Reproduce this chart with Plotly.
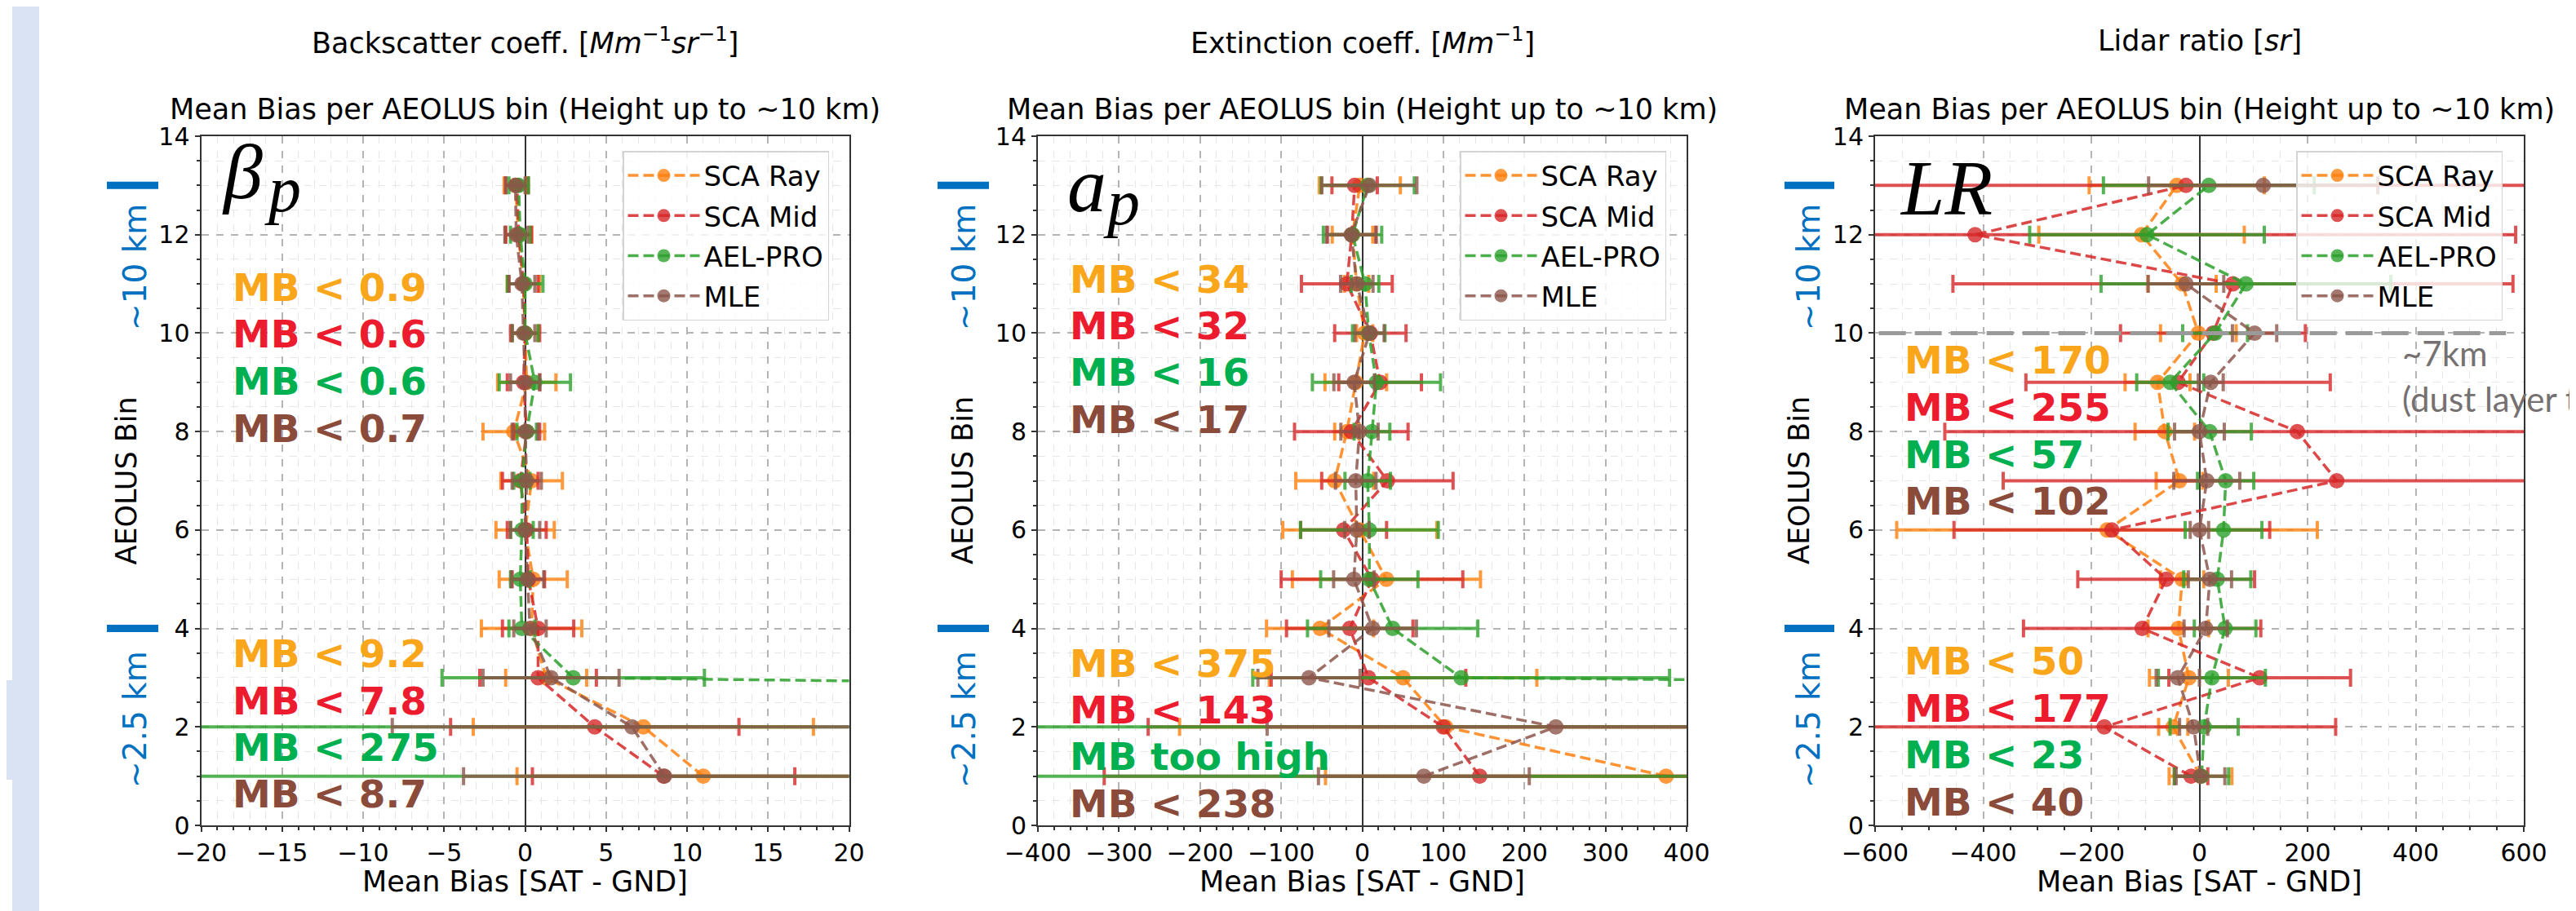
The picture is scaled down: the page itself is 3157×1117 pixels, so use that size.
import plotly.graph_objects as go

W, H = 3157, 1117

# ---------------- data ----------------
bins = [1, 2, 3, 4, 5, 6, 7, 8, 9, 10, 11, 12, 13]
series_names = ["SCA Ray", "SCA Mid", "AEL-PRO", "MLE"]

# Backscatter coeff.
bsc_ray = [11.0, 7.3, 1.3, 0.4, 0.5, 0.0, 0.4, -0.7, 0.1, 0.0, -0.1, -0.4, -0.6]
bsc_ray_err = [11.5, 10.5, 2.5, 3.1, 2.1, 1.8, 1.9, 1.9, 1.8, 0.8, 1.0, 0.8, 0.7]
bsc_mid = [8.55, 4.3, 0.8, 0.8, 0.2, 0.1, -0.3, 0.1, -0.1, 0.0, -0.1, -0.4, -0.5]
bsc_mid_err = [8.1, 8.9, 3.6, 2.2, 1.0, 1.2, 1.1, 0.8, 1.0, 0.9, 0.9, 0.8, 0.7]
bsc_ael = [150.0, 265.0, 2.97, -0.2, -0.3, -0.2, -0.2, 0.1, 0.6, 0.0, 0.0, -0.3, -0.4]
bsc_ael_err = [300, 300, 8.1, 0.8, 0.6, 0.7, 0.5, 0.6, 2.2, 0.8, 1.1, 0.6, 0.6]
bsc_mle = [8.6, 6.6, 1.6, 0.3, 0.15, 0.0, 0.1, 0.0, 0.0, -0.1, -0.2, -0.55, -0.6]
bsc_mle_err = [12.4, 14.8, 4.2, 1.0, 1.0, 0.9, 0.9, 0.8, 0.9, 0.7, 0.8, 0.7, 0.6]

# Extinction coeff.
ext_ray = [374.7, 102.7, 50.3, -52.0, 29.8, -3.0, -34.0, -19.0, -8.0, 3.0, -7.0, -12.0, -3.0]
ext_ray_err = [420, 328, 165, 66, 116, 95, 48, 15, 38, 10, 15, 25, 50]
ext_mid = [144.8, 100.0, 7.7, -15.4, 12.0, -23.0, 31.0, -13.5, 22.0, 10.0, -19.0, -13.0, -9.4]
ext_mid_err = [463, 364, 120, 78, 112, 53, 81, 70, 51, 44, 56, 30, 28]
ext_ael = [5000, 7000, 122.0, 37.5, 8.7, 8.8, 6.7, 12.0, 17.5, 8.0, 3.4, -12.0, 6.7]
ext_ael_err = [8000, 8000, 257, 105, 60, 85, 28, 22, 79, 20, 17, 36, 57.5]
ext_mle = [76.0, 238.7, -65.7, 12.8, -10.3, -6.7, -8.0, -3.4, -10.0, 9.0, -6.7, -13.5, 8.8]
ext_mle_err = [130, 356, 63, 54, 25, 15, 25, 23, 25, 18, 20, 30.5, 58.6]

# Lidar ratio
lr_ray = [2.0, -48.5, -19.4, -39.0, -32.0, -171.0, -37.0, -64.0, -77.5, -2.0, -32.0, -107.0, -42.0]
lr_ray_err = [58, 27, 73, 56, 40, 389, 43, 55, 60, 70, 63, 190, 162]
lr_mid = [-15.5, -176.0, 111.5, -106.0, -61.5, -162.0, 254.0, 181.0, -39.5, 25.0, 62.0, -415.0, -25.0]
lr_mid_err = [31, 428, 168, 219.5, 163.5, 292, 617, 652, 281.5, 171, 518, 1000, 700]
lr_ael = [4.0, 8.7, 23.0, 47.5, 33.0, 44.6, 48.5, 19.0, -54.0, 29.0, 86.0, -97.0, 17.4]
lr_ael_err = [50, 63, 99, 57, 62, 71, 52, 77, 62, 60, 268, 217, 195]
lr_mle = [2.0, -10.7, -40.0, 11.6, 19.4, 0.0, 13.6, 0.0, 21.0, 102.0, -25.0, None, 118.0]
lr_mle_err = [45, 26, 40, 40, 40, 17, 61, 46, 23, 41, 70, 0, 212]

# Text labels
suptitles = ["Backscatter coeff. [<i>Mm</i><sup>−1</sup><i>sr</i><sup>−1</sup>]",
             "Extinction coeff. [<i>Mm</i><sup>−1</sup>]",
             "Lidar ratio [<i>sr</i>]"]
subtitle = "Mean Bias per AEOLUS bin (Height up to ~10 km)"
symbols = [("β", "p"), ("a", "p"), ("LR", "")]
mb_upper = [["MB < 0.9", "MB < 0.6", "MB < 0.6", "MB < 0.7"],
            ["MB < 34", "MB < 32", "MB < 16", "MB < 17"],
            ["MB < 170", "MB < 255", "MB < 57", "MB < 102"]]
mb_lower = [["MB < 9.2", "MB < 7.8", "MB < 275", "MB < 8.7"],
            ["MB < 375", "MB < 143", "MB too high", "MB < 238"],
            ["MB < 50", "MB < 177", "MB < 23", "MB < 40"]]
x_ranges = [[-20, 20], [-400, 400], [-600, 600]]
x_dticks = [5, 100, 200]
x_minor = [1, 20, 50]

panels = [
    [(bsc_ray, bsc_ray_err), (bsc_mid, bsc_mid_err), (bsc_ael, bsc_ael_err), (bsc_mle, bsc_mle_err)],
    [(ext_ray, ext_ray_err), (ext_mid, ext_mid_err), (ext_ael, ext_ael_err), (ext_mle, ext_mle_err)],
    [(lr_ray, lr_ray_err), (lr_mid, lr_mid_err), (lr_ael, lr_ael_err), (lr_mle, lr_mle_err)],
]

# ---------------- style ----------------
FONT = "DejaVu Sans"
SERIF = "Liberation Serif"
series_rgb = [(255, 127, 14), (214, 39, 40), (44, 160, 44), (140, 86, 75)]
text_cols = ["#F9A61A", "#EC1C2E", "#00B050", "#8B4B3B"]
BLUE = "#0070C0"


def rgba(c, a):
    return "rgba(%d,%d,%d,%.2f)" % (c[0], c[1], c[2], a)


def px(x):
    return x / W


def py(y):
    return 1 - y / H


x_left = [238.5, 1264.0, 2290.0]
x_right = [1032.6, 2059.0, 3085.0]
y_top, y_bot = 159.0, 1004.0

fig = go.Figure()

for p in range(3):
    xa = "x" if p == 0 else "x%d" % (p + 1)
    ya = "y" if p == 0 else "y%d" % (p + 1)
    leg = "legend" if p == 0 else "legend%d" % (p + 1)
    for s in range(4):
        vals, errs = panels[p][s]
        col = series_rgb[s]
        fig.add_trace(go.Scatter(
            x=vals, y=bins, mode="lines+markers", name=series_names[s],
            xaxis=xa, yaxis=ya, legend=leg, legendgroup="g%d_%d" % (p, s),
            line=dict(color=rgba(col, 0.85), width=3.5, dash="13px,6px"),
            marker=dict(color=rgba(col, 0.8), size=19, line=dict(width=0)),
            error_x=dict(type="data", array=errs, visible=True, color=rgba(col, 0.8),
                         thickness=4, width=11),
            connectgaps=False,
        ))

layout = dict(
    width=W, height=H, margin=dict(l=0, r=0, t=0, b=0, pad=0, autoexpand=False),
    paper_bgcolor="white", plot_bgcolor="white",
    font=dict(family=FONT, size=30, color="black"),
    showlegend=True,
)

axis_common = dict(
    automargin=False,
    showline=True, mirror=True, linecolor="#333333", linewidth=2,
    ticks="outside", ticklen=6, tickwidth=2, tickcolor="#333333",
    tickfont=dict(family=FONT, size=30, color="black"),
    showgrid=True, gridcolor="#b4b4b4", griddash="dash", gridwidth=1.5,
)

for p in range(3):
    xk = "xaxis" if p == 0 else "xaxis%d" % (p + 1)
    yk = "yaxis" if p == 0 else "yaxis%d" % (p + 1)
    ya = "y" if p == 0 else "y%d" % (p + 1)
    xa = "x" if p == 0 else "x%d" % (p + 1)
    layout[xk] = dict(axis_common, domain=[px(x_left[p]), px(x_right[p])],
                      range=x_ranges[p], dtick=x_dticks[p], tick0=0, anchor=ya,
                      zeroline=True, zerolinecolor="#333333", zerolinewidth=2,
                      minor=dict(dtick=x_minor[p], ticks="outside", ticklen=4, tickwidth=1.5,
                                 tickcolor="#333333", showgrid=True, gridcolor="#e6e6e6",
                                 griddash="dash", gridwidth=1))
    layout[yk] = dict(axis_common, domain=[py(y_bot), py(y_top)], range=[0, 14], dtick=2,
                      anchor=xa, zeroline=False,
                      minor=dict(dtick=0.5, ticks="outside", ticklen=4, tickwidth=1.5,
                                 tickcolor="#333333", showgrid=True, gridcolor="#e6e6e6",
                                 griddash="dash", gridwidth=1))

legend_x = [755, 1781, 2806]
for p in range(3):
    lk = "legend" if p == 0 else "legend%d" % (p + 1)
    layout[lk] = dict(x=px(legend_x[p]), y=py(177), xanchor="left", yanchor="top",
                      xref="paper", yref="paper",
                      bgcolor="rgba(255,255,255,0.8)", bordercolor="#d4d4d4", borderwidth=1.5,
                      font=dict(family=FONT, size=34, color="black"),
                      tracegroupgap=2, itemwidth=88)

annotations = []
shapes = []

# light strip at the far left
shapes.append(dict(type="rect", xref="paper", yref="paper", x0=px(7), x1=px(40), y0=0, y1=1,
                   fillcolor="#DAE3F3", line=dict(width=0), layer="below"))
shapes.append(dict(type="rect", xref="paper", yref="paper", x0=0, x1=px(40), y0=py(948), y1=py(826),
                   fillcolor="#DAE3F3", line=dict(width=0), layer="below"))

mb_left = [275, 1301, 2324]
mb_up_y = [[345, 402, 459, 517], [334, 391, 448.5, 506], [434, 491.5, 549, 606.5]]
mb_lo_y = [[793, 851, 908, 965], [805, 862, 919, 977], [802, 860, 917, 975]]
ytitle_x = [146, 1171.5, 2196.5]
blue_x = [157, 1173, 2208]
bar_x = [(123, 186), (1141, 1204), (2179, 2240)]
sym_x = [(262, 314), (1298, 1342), (2318, None)]
sym_y = [(203, 224), (219, 240), (222, None)]

for p in range(3):
    xc = (x_left[p] + x_right[p]) / 2
    # titles
    annotations.append(dict(text=suptitles[p], x=px(xc), y=py(42), xref="paper", yref="paper",
                            xanchor="center", yanchor="middle", showarrow=False,
                            font=dict(family=FONT, size=35, color="black")))
    annotations.append(dict(text=subtitle, x=px(xc), y=py(126), xref="paper", yref="paper",
                            xanchor="center", yanchor="middle", showarrow=False,
                            font=dict(family=FONT, size=35, color="black")))
    # axis titles
    annotations.append(dict(text="Mean Bias [SAT - GND]", x=px(xc), y=py(1073), xref="paper",
                            yref="paper", xanchor="center", yanchor="middle", showarrow=False,
                            font=dict(family=FONT, size=35, color="black")))
    annotations.append(dict(text="AEOLUS Bin", x=px(ytitle_x[p]), y=py((y_top + y_bot) / 2),
                            xref="paper", yref="paper", xanchor="center", yanchor="middle",
                            textangle=-90, showarrow=False,
                            font=dict(family=FONT, size=35, color="black")))
    # blue height labels
    annotations.append(dict(text="~10 km", x=px(blue_x[p]), y=py(320), xref="paper", yref="paper",
                            xanchor="center", yanchor="middle", textangle=-90, showarrow=False,
                            font=dict(family=FONT, size=39, color=BLUE)))
    annotations.append(dict(text="~2.5 km", x=px(blue_x[p]), y=py(874), xref="paper", yref="paper",
                            xanchor="center", yanchor="middle", textangle=-90, showarrow=False,
                            font=dict(family=FONT, size=39, color=BLUE)))
    ya = "y" if p == 0 else "y%d" % (p + 1)
    for yb in (13.0, 4.0):
        shapes.append(dict(type="line", xref="paper", yref=ya, x0=px(bar_x[p][0]),
                           x1=px(bar_x[p][1]), y0=yb, y1=yb,
                           line=dict(color=BLUE, width=9)))
    # MB texts
    for s in range(4):
        annotations.append(dict(text="<b>%s</b>" % mb_upper[p][s], x=px(mb_left[p]),
                                y=py(mb_up_y[p][s]), xref="paper", yref="paper",
                                xanchor="left", yanchor="middle", showarrow=False,
                                font=dict(family=FONT, size=47, color=text_cols[s])))
        annotations.append(dict(text="<b>%s</b>" % mb_lower[p][s], x=px(mb_left[p]),
                                y=py(mb_lo_y[p][s]), xref="paper", yref="paper",
                                xanchor="left", yanchor="middle", showarrow=False,
                                font=dict(family=FONT, size=47, color=text_cols[s])))
    # big symbols
    main, sub = symbols[p]
    annotations.append(dict(text="<i>%s</i>" % main, x=px(sym_x[p][0]), y=py(sym_y[p][0]),
                            xref="paper", yref="paper", xanchor="left", yanchor="middle",
                            showarrow=False, font=dict(family=SERIF, size=96, color="black")))
    if sub:
        annotations.append(dict(text="<i>%s</i>" % sub, x=px(sym_x[p][1]), y=py(sym_y[p][1]),
                                xref="paper", yref="paper", xanchor="left", yanchor="middle",
                                showarrow=False, font=dict(family=SERIF, size=80, color="black")))

# dust layer marker in the lidar-ratio panel
shapes.append(dict(type="line", xref="x3", yref="y3", x0=-593, x1=567, y0=10, y1=10,
                   line=dict(color="#9a9a9a", width=5, dash="33px,11px")))
annotations.append(dict(text="~7km", x=px(2934), y=py(425), xref="paper", yref="paper",
                        xanchor="left", yanchor="middle", showarrow=False,
                        font=dict(family="Lato", size=42, color="#767171")))
annotations.append(dict(text="(dust layer top)", x=px(2934), y=py(481), xref="paper", yref="paper",
                        xanchor="left", yanchor="middle", showarrow=False,
                        font=dict(family="Lato", size=42, color="#767171")))

layout["annotations"] = annotations
layout["shapes"] = shapes
fig.update_layout(**layout)

fig.write_html("out.html")
